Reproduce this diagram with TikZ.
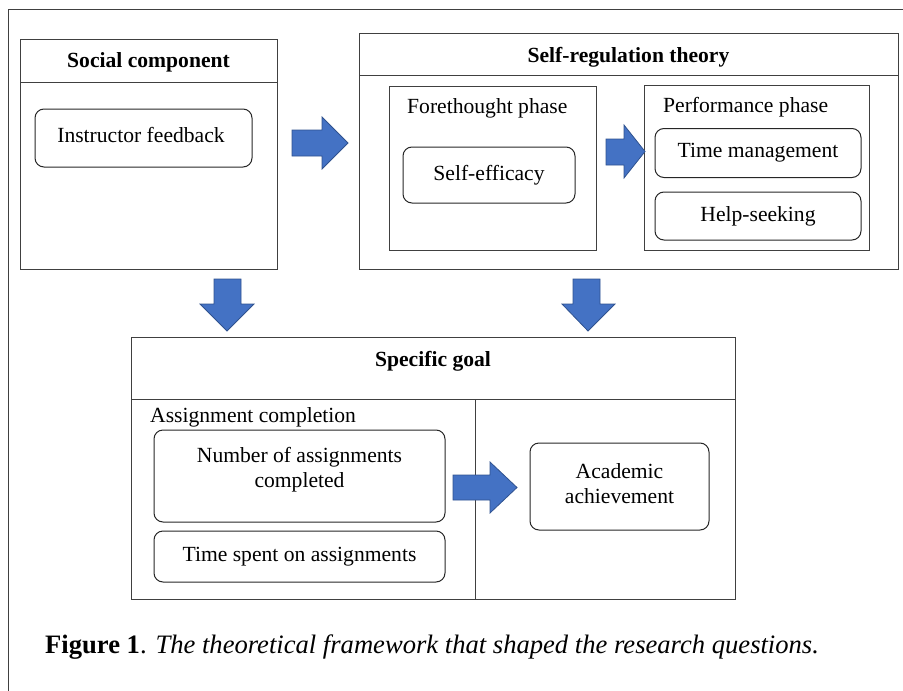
\documentclass[tikz,border=0pt]{standalone}
\usepackage{fontspec}
\setmainfont{Liberation Serif}
\begin{document}
\begin{tikzpicture}[x=1pt,y=-1pt,
  line/.style={draw=black!75,line width=1pt},
  sqbox/.style={line,rectangle,inner sep=0pt},
  rbox/.style={draw=black!85,line width=1pt,rectangle,rounded corners=9pt,inner sep=0pt,align=center,font=\fontsize{21.6}{25}\selectfont},
  txt/.style={inner sep=0pt,align=center,font=\fontsize{21.6}{25}\selectfont},
  title/.style={inner sep=0pt,font=\fontsize{21.6}{25}\selectfont\bfseries},
  lbl/.style={inner sep=0pt,anchor=west,font=\fontsize{21.6}{25}\selectfont},
  barrow/.style={fill=arrowblue,draw=arrowedge,line width=0.8pt,line join=miter}]
\definecolor{arrowblue}{HTML}{4472C4}
\definecolor{arrowedge}{HTML}{2F528F}
\useasboundingbox (0,0) rectangle (903,691);
% outer frame (open to right and bottom)
\draw[line] (8,691) -- (8,9) -- (903,9);

% Social component
\node[sqbox,minimum width=257,minimum height=230] (social) at (148.5,154) {};
\draw[line] (20,82) -- (277,82);
\node[title] (socialt) at (148.5,62) {Social component};
\node[rbox,minimum width=217,minimum height=58] (instr) at (143.5,138) {};
\node[txt] (instrt) at (141,134.5) {Instructor feedback};

% Self-regulation theory
\node[sqbox,minimum width=539,minimum height=236] (srt) at (628.5,151) {};
\draw[line] (359,75) -- (898,75);
\node[title] (srtt) at (628.5,57) {Self-regulation theory};
\node[sqbox,minimum width=207,minimum height=164] (fore) at (492.5,168) {};
\node[lbl] (forel) at (407,108) {Forethought phase};
\node[rbox,minimum width=172,minimum height=56] (se) at (489,175) {Self-efficacy};
\node[sqbox,minimum width=225,minimum height=165] (perf) at (756.5,167.5) {};
\node[lbl] (perfl) at (663,107) {Performance phase};
\node[rbox,minimum width=206,minimum height=49] (tm) at (758,153) {Time management};
\node[rbox,minimum width=206,minimum height=48] (hs) at (758,216) {Help-seeking};

% Specific goal
\node[sqbox,minimum width=604,minimum height=262] (goal) at (433,468) {};
\draw[line] (131,399) -- (735,399);
\draw[line] (475,399) -- (475,599);
\node[title] (goalt) at (433,361) {Specific goal};
\node[lbl] (acl) at (150,417) {Assignment completion};
\node[rbox,minimum width=291,minimum height=92] (num) at (299.5,476) {};
\node[txt] (numt) at (299.5,470) {Number of assignments\\completed};
\node[rbox,minimum width=291,minimum height=51] (tsa) at (299.5,556.5) {Time spent on assignments};
\node[rbox,minimum width=179,minimum height=87] (aa) at (619.5,486.5) {};
\node[txt] (aat) at (619.5,484) {Academic\\achievement};

% block arrows
\draw[barrow] (292,130) -- (322,130) -- (322,117) -- (348,143) -- (322,169) -- (322,156) -- (292,156) -- cycle;
\draw[barrow] (606,139) -- (624,139) -- (624,125) -- (645,151.5) -- (624,178) -- (624,165) -- (606,165) -- cycle;
\draw[barrow] (453,475) -- (490,475) -- (490,462) -- (517,487.5) -- (490,513) -- (490,500) -- (453,500) -- cycle;
\draw[barrow] (214,279) -- (241,279) -- (241,304) -- (254,304) -- (227,331) -- (200,304) -- (214,304) -- cycle;
\draw[barrow] (573,279) -- (600,279) -- (600,304) -- (615,304) -- (588,331) -- (562,304) -- (573,304) -- cycle;

% caption
\node[inner sep=0pt,anchor=base west,font=\fontsize{26.6}{30}\selectfont] (cap) at (45,653)
  {\textbf{Figure 1}. \textit{The theoretical framework that shaped the research questions.}};
\end{tikzpicture}
\end{document}
